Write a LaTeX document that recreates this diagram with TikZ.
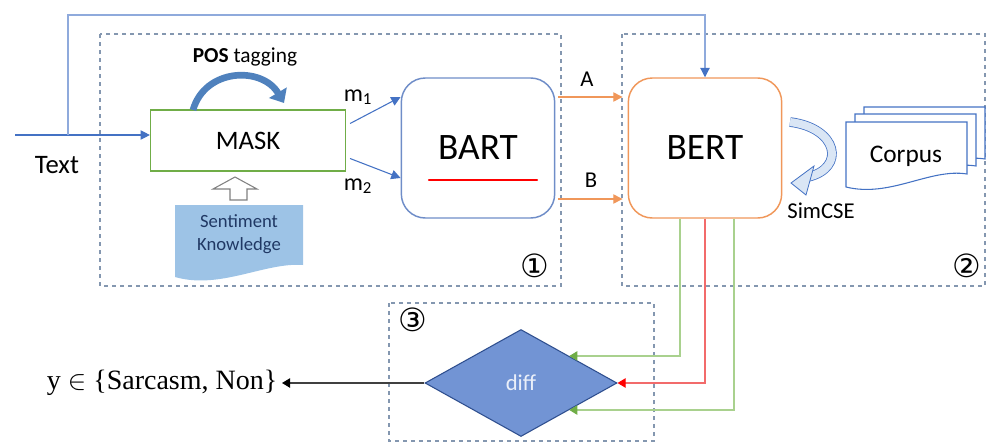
\documentclass[tikz,border=0pt]{standalone}
\usepackage{fontspec}
\setmainfont{Carlito}
\newfontfamily\serifface{Liberation Serif}
\newfontfamily\symface{DejaVu Sans}
\usetikzlibrary{arrows.meta, shapes.geometric, calc}

\definecolor{linkblue}{HTML}{4472C4}
\definecolor{paleblue}{HTML}{8FAADC}
\definecolor{groupgray}{HTML}{8497B0}
\definecolor{maskgreen}{HTML}{70AD47}
\definecolor{bartblue}{HTML}{6F8DC8}
\definecolor{bertorange}{HTML}{F0975A}
\definecolor{linegreen}{HTML}{A9D18E}
\definecolor{tipgreen}{HTML}{70AD47}
\definecolor{linered}{HTML}{F26B6B}
\definecolor{diffblue}{HTML}{7294D4}
\definecolor{diffedge}{HTML}{2F4F8F}
\definecolor{knowblue}{HTML}{9DC3E6}
\definecolor{knowtext}{HTML}{203864}
\definecolor{posblue}{HTML}{4F81BD}
\definecolor{simfill}{HTML}{DAE6F5}

\tikzset{
  group/.style={draw=groupgray, dashed, line width=0.8pt},
  model/.style={draw, rounded corners=18pt, line width=1.1pt, minimum width=115pt,
    minimum height=105pt, font=\fontsize{28}{32}\selectfont},
  doc/.style={draw=linkblue, fill=white, line width=0.8pt},
  flow/.style={draw=linkblue, line width=0.8pt, -{Triangle[length=7pt,width=7pt]}},
  abflow/.style={draw=bertorange, line width=0.8pt, -{Triangle[length=7pt,width=7pt]}},
  scoreline/.style={line width=0.8pt, -{Triangle[length=6pt,width=7pt]}},
  circnum/.style={font=\symface\fontsize{24}{26}\selectfont}
}

\begin{document}
\begin{tikzpicture}[x=0.75pt,y=0.75pt,yscale=-1,xscale=1]
\useasboundingbox (0,0) rectangle (997,443);

% dashed groups
\draw[group] (100,34) rectangle (561,286);
\draw[group] (622,34) rectangle (985,286);
\draw[group] (389,303) rectangle (654,441);
\node[circnum] (one) at (535,266) {①};
\node[circnum] (two) at (967,266) {②};
\node[circnum] (three) at (413,320) {③};

% main blocks
\node[draw=maskgreen, line width=1.1pt, minimum width=146pt, minimum height=45.75pt,
  font=\fontsize{20}{24}\selectfont] (mask) at (248,140.5) {MASK};
\node[model, draw=bartblue] (bart) at (478,148) {BART};
\node[model, draw=bertorange] (bert) at (705,148) {BERT};
\node[diamond, draw=diffedge, fill=diffblue, line width=0.8pt, inner sep=0pt,
  minimum width=144pt, minimum height=80.25pt, text=white!85!diffblue,
  font=\fontsize{17}{20}\selectfont] (diff) at (521,383) {diff};
\draw[red, line width=1.8pt, line cap=round] (429,180) -- (537,180);

% input
\coordinate (txt) at (15,135);
\coordinate (tap) at (68,135);
\node[font=\fontsize{20}{24}\selectfont] (textlbl) at (57,165) {Text};
\draw[flow] (txt) -- (txt -| mask.west);
\draw[draw=paleblue, line width=0.8pt, -{Triangle[length=7pt,width=7pt,color=linkblue]}]
  (tap) -- ++(0,-120) -| (bert.north);

% POS tagging
\draw[posblue, line width=5pt, -{Triangle[length=9pt,width=15pt]}]
  (193,110) .. controls (205,68) and (262,66) .. (284,103);
\node[font=\fontsize{16}{19}\selectfont] (pos) at (245,57) {\textbf{POS} tagging};

% sentiment knowledge
\draw[gray, fill=white, line width=0.8pt] (230,200) -- (230,189) -- (213,189) -- (235,177)
  -- (257,189) -- (247,189) -- (247,200) -- cycle;
\fill[knowblue] (175,205) -- (303,205) -- (303,265)
  .. controls (265,262) and (220,290) .. (175,277) -- cycle;
\node[align=center, text=knowtext, font=\fontsize{14}{17}\selectfont] (know) at (239,234)
  {Sentiment\\Knowledge};

% masked views
\draw[flow] ($(mask.east)+(4,-17)$) -- ($(bart.west)+(0,-51)$);
\draw[flow] ($(mask.east)+(4,18)$) -- ($(bart.west)+(0,30)$);
\node[font=\fontsize{18}{21}\selectfont] (m1) at (358,97) {m\textsubscript{1}};
\node[font=\fontsize{18}{21}\selectfont] (m2) at (358,186) {m\textsubscript{2}};

% generated pair
\draw[abflow] ($(bart.east)+(3,-51)$) -- ($(bert.west)+(-5,-51)$);
\draw[abflow] ($(bart.east)+(3,51)$) -- ($(bert.west)+(-5,51)$);
\node[font=\fontsize{17}{20}\selectfont] (alab) at (587,79) {A};
\node[font=\fontsize{17}{20}\selectfont] (blab) at (591,180) {B};

% corpus stack, back to front
\draw[doc] (864,107) -- (985,107) -- (985,159)
  .. controls (948,153) and (908,183) .. (864,172) -- cycle;
\draw[doc] (855,114) -- (976,114) -- (976,166)
  .. controls (939,160) and (899,190) .. (855,179) -- cycle;
\draw[doc] (846,122) -- (967,122) -- (967,174)
  .. controls (930,168) and (890,198) .. (846,187) -- cycle;
\node[font=\fontsize{19}{22}\selectfont] (corpus) at (906,156) {Corpus};

% SimCSE
\draw[draw=linkblue, double=simfill, double distance=6pt, line width=0.6pt]
  (790,122) .. controls (838,128) and (846,168) .. (808,177);
\draw[draw=linkblue, fill=simfill, line width=0.6pt]
  (791,183) -- (814,166) -- (806,195) -- cycle;
\node[font=\fontsize{17}{20}\selectfont] (simcse) at (821,211) {SimCSE};

% scores into diff
\draw[scoreline, draw=linegreen, -{Triangle[length=6pt,width=7pt,color=tipgreen]}]
  ($(bert.south)+(-25,0)$) |- (diff.north east);
\draw[scoreline, draw=linered, -{Triangle[length=6pt,width=7pt,color=red]}]
  (bert.south) |- (diff.east);
\draw[scoreline, draw=linegreen, -{Triangle[length=6pt,width=7pt,color=tipgreen]}]
  ($(bert.south)+(29,0)$) |- (diff.south east);

% output
\node[anchor=east, font=\serifface\fontsize{21}{24}\selectfont] (out) at (282,383)
  {y $\in$ \{Sarcasm, Non\}};
\draw[black!75, line width=0.8pt, -{Triangle[length=6pt,width=7pt,color=black]}]
  (diff.west) -- (out.east);

\end{tikzpicture}
\end{document}
